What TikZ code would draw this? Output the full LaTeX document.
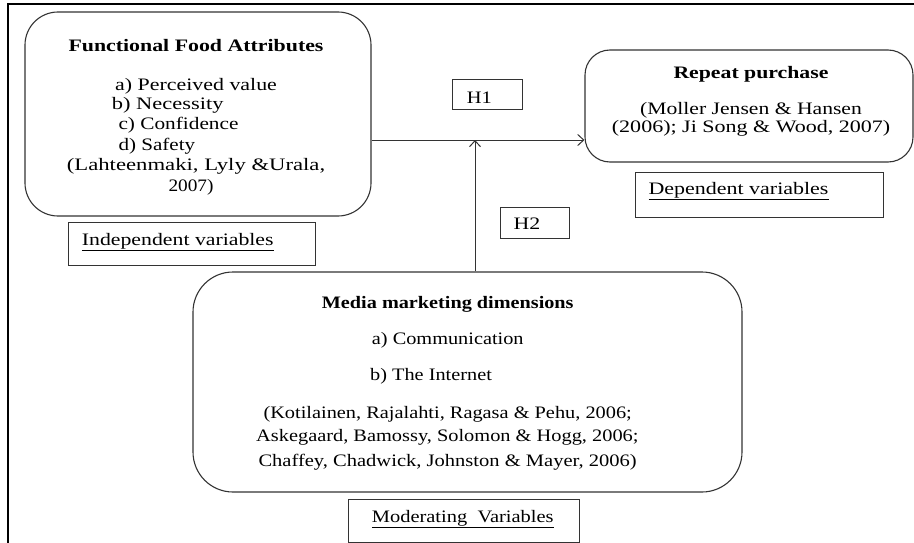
\documentclass[tikz,border=0pt]{standalone}
\usepackage{graphicx}
\usepackage{fontspec}
\setmainfont{Liberation Serif}
\usetikzlibrary{arrows.meta}
\newcommand{\fitw}[2]{\resizebox{#1pt}{\height}{#2}}
\tikzset{
  bigbox/.style={draw=black!80, line width=1.1pt},
  lblbox/.style={draw=black!80, line width=1pt, minimum width=#1},
  txtl/.style={inner sep=0pt, anchor=base west, font=\fontsize{17.5}{20}\selectfont},
  arr/.style={draw=black!80, line width=1pt, -{Straight Barb[length=6pt,width=11pt]}}
}
\begin{document}
\begin{tikzpicture}[x=1pt,y=-1pt]
\useasboundingbox (0,0) rectangle (914,543);
% outer frame (cut at right and bottom)
\draw[line width=2pt] (8,543) -- (8,4) -- (914,4);
% main boxes
\node[bigbox, rounded corners=33pt, minimum width=346pt, minimum height=204pt] (f) at (198,114) {};
\node[bigbox, rounded corners=25pt, minimum width=328pt, minimum height=112pt] (r) at (749,106) {};
\node[bigbox, rounded corners=40pt, minimum width=549pt, minimum height=220pt] (m) at (467.5,382) {};
% label boxes
\node[lblbox=247pt, minimum height=43pt] (ib) at (191.5,243.5) {};
\node[lblbox=248pt, minimum height=45pt] (db) at (759,194.5) {};
\node[lblbox=231pt, minimum height=43pt] (mb) at (463.5,521) {};
\node[lblbox=70pt, minimum height=30pt] (h1) at (487,95) {};
\node[lblbox=69pt, minimum height=31pt] (h2) at (534.5,222.5) {};
% texts box 1
\node[txtl] (ft) at (68.3,52) {\fitw{255}{\textbf{Functional Food Attributes}}};
\node[txtl] (fa) at (115,90) {\fitw{161.7}{a) Perceived value}};
\node[txtl] (fb) at (111.7,110) {\fitw{111.7}{b) Necessity}};
\node[txtl] (fc) at (118.3,130) {\fitw{120}{c) Confidence}};
\node[txtl] (fd) at (118.3,150) {\fitw{76.7}{d) Safety}};
\node[txtl] (fc1) at (66.7,170) {\fitw{258.3}{(Lahteenmaki, Lyly \&Urala,}};
\node[txtl] (fc2) at (168.3,191) {\fitw{45}{2007)}};
% texts repeat
\node[txtl] (rt) at (673.3,78) {\fitw{155}{\textbf{Repeat purchase}}};
\node[txtl] (r1) at (640,114) {\fitw{221.7}{(Moller Jensen \& Hansen}};
\node[txtl] (r2) at (611.7,132) {\fitw{278.3}{(2006); Ji Song \& Wood, 2007)}};
% labels
\node[txtl] (it) at (81.7,245) {\fitw{191.7}{\underline{Independent variables}}};
\node[txtl] (dt) at (648.3,194) {\fitw{180}{\underline{Dependent variables}}};
\node[txtl] (h1t) at (466.7,103) {\fitw{25}{H1}};
\node[txtl] (h2t) at (513.3,229) {\fitw{26.7}{H2}};
\node[txtl] (mt) at (371.7,522.5) {\fitw{181.7}{\underline{Moderating\ \ Variables}}};
% media texts
\node[txtl] (mtt) at (321.7,308.3) {\fitw{251.7}{\textbf{Media marketing dimensions}}};
\node[txtl] (ma) at (371.7,344.3) {\fitw{151.7}{a) Communication}};
\node[txtl] (mbb) at (370,380) {\fitw{121.7}{b) The Internet}};
\node[txtl] (mc1) at (263.3,418.3) {\fitw{368.3}{(Kotilainen, Rajalahti, Ragasa \& Pehu, 2006;}};
\node[txtl] (mc2) at (256,441.7) {\fitw{382.3}{Askegaard, Bamossy, Solomon \& Hogg, 2006;}};
\node[txtl] (mc3) at (258.3,466.7) {\fitw{378.3}{Chaffey, Chadwick, Johnston \& Mayer, 2006)}};
% connectors
\coordinate (j) at (475,140);
\draw[arr] (f.east |- j) -- (r.west |- j);
\draw[arr] (m.north -| j) -- (j);
\end{tikzpicture}
\end{document}
